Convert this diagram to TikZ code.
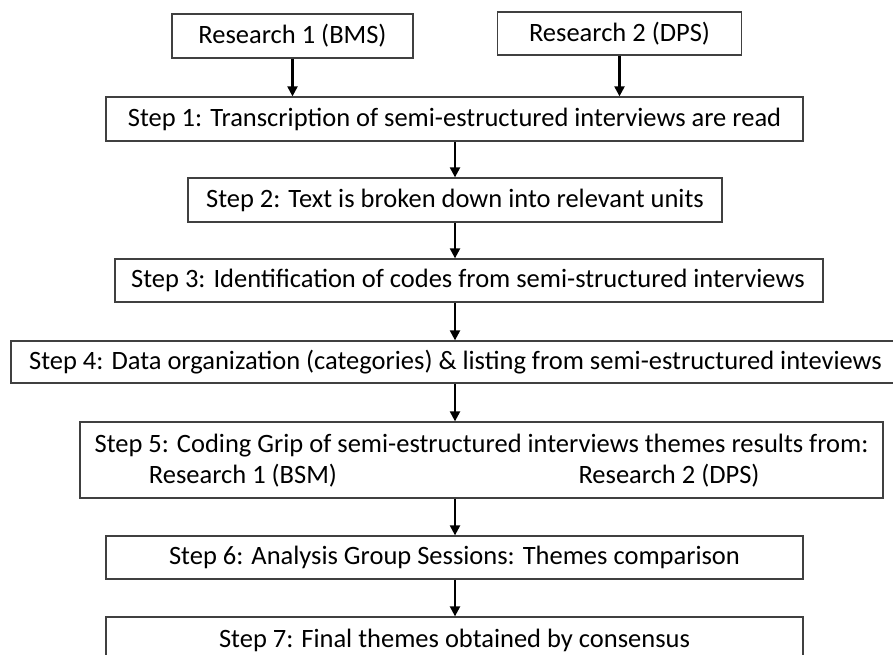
\documentclass[tikz,border=0pt]{standalone}
\usepackage{fontspec}
\setmainfont{Carlito}
\usetikzlibrary{arrows.meta}
\definecolor{boxline}{HTML}{404040}
\tikzset{
  box/.style={draw=boxline, line width=1.3pt, inner sep=0pt, fill=white,
    font=\fontsize{26.5}{31}\selectfont, text=black},
  txt/.style={inner sep=0pt, font=\fontsize{26.5}{31}\selectfont, text=black},
  flow/.style={draw=black, line width=2.2pt, -{Triangle[length=10pt,width=10pt]}}
}
\begin{document}
\begin{tikzpicture}[x=1pt,y=-1pt]
\useasboundingbox (0,0) rectangle (893,654);
\node[box, minimum width=241, minimum height=44] (r1) at (292.5,36) {Research 1 (BMS)};
\node[box, minimum width=244, minimum height=43] (r2) at (619.5,33.5) {Research 2 (DPS)};
\node[box, minimum width=697, minimum height=44] (s1) at (454.5,119) {Step 1: Transcription of semi-estructured interviews are read};
\node[box, minimum width=534, minimum height=44] (s2) at (455,200) {Step 2: Text is broken down into relevant units};
\node[box, minimum width=708, minimum height=43] (s3) at (469,280.5) {};
\node[txt, anchor=west] (s3t) at (131,280.5) {Step 3: Identification of codes from semi-structured interviews};
\node[box, minimum width=889, minimum height=42] (s4) at (455.5,362) {Step 4: Data organization (categories) \& listing from semi-estructured inteviews};
\node[box, minimum width=803, minimum height=76] (s5) at (481.5,460) {};
\node[txt] (s5a) at (481.5,446) {Step 5: Coding Grip of semi-estructured interviews themes results from:};
\node[txt] (s5b) at (243,476) {Research 1 (BSM)};
\node[txt] (s5c) at (669,476) {Research 2 (DPS)};
\node[box, minimum width=697, minimum height=43] (s6) at (454.5,557.5) {Step 6: Analysis Group Sessions: Themes comparison};
\node[box, minimum width=697, minimum height=46] (s7) at (454.5,640) {};
\node[txt] (s7t) at (454.5,640) {Step 7: Final themes obtained by consensus};
\coordinate (c1) at (455,0);
\draw[flow] (r1.south) -- (r1.south |- s1.north);
\draw[flow] (r2.south) -- (r2.south |- s1.north);
\draw[flow] (c1 |- s1.south) -- (c1 |- s2.north);
\draw[flow] (c1 |- s2.south) -- (c1 |- s3.north);
\draw[flow] (c1 |- s3.south) -- (c1 |- s4.north);
\draw[flow] (c1 |- s4.south) -- (c1 |- s5.north);
\draw[flow] (c1 |- s5.south) -- (c1 |- s6.north);
\draw[flow] (c1 |- s6.south) -- (c1 |- s7.north);
\end{tikzpicture}
\end{document}
